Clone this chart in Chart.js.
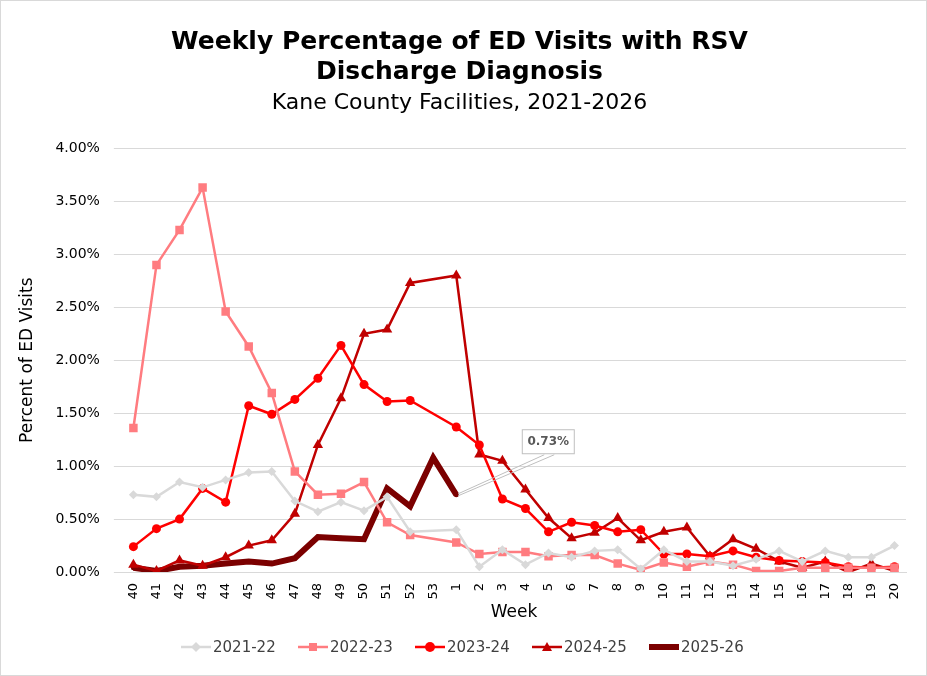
<!DOCTYPE html>
<html>
<head>
<meta charset="utf-8">
<script src="https://cdn.jsdelivr.net/npm/chart.js@4"></script>
<style>
  html, body { margin: 0; padding: 0; background: #fff; }
  #wrap { width: 925px; height: 674px; border: 1px solid #d9d9d9; position: relative; }
  canvas { display: block; }
</style>
</head>
<body>
<div id="wrap"><canvas id="rsv" width="925" height="674"></canvas></div>
<script>
// Week labels (season runs week 40 to week 20)
const weeks = ['40','41','42','43','44','45','46','47','48','49','50','51','52','53',
  '1','2','3','4','5','6','7','8','9','10','11','12','13','14','15','16','17','18','19','20'];

// Percent of ED visits with RSV discharge diagnosis
const s2122 = [0.73,0.71,0.85,0.80,0.87,0.94,0.95,0.67,0.57,0.66,0.58,0.71,0.38,null,
  0.40,0.05,0.21,0.07,0.18,0.14,0.20,0.21,0.03,0.21,0.10,0.10,0.06,0.12,0.20,0.10,0.20,0.14,0.14,0.25];
const s2223 = [1.36,2.90,3.23,3.63,2.46,2.13,1.69,0.95,0.73,0.74,0.85,0.47,0.35,null,
  0.28,0.17,0.19,0.19,0.15,0.16,0.16,0.08,0.02,0.09,0.05,0.10,0.07,0.01,0.01,0.04,0.04,0.04,0.04,0.04];
const s2324 = [0.24,0.41,0.50,0.79,0.66,1.57,1.49,1.63,1.83,2.14,1.77,1.61,1.62,null,
  1.37,1.20,0.69,0.60,0.38,0.47,0.44,0.38,0.40,0.17,0.17,0.15,0.20,0.14,0.11,0.10,0.09,0.05,0.04,0.05];
const s2425 = [0.07,0.01,0.11,0.06,0.14,0.25,0.30,0.55,1.20,1.64,2.25,2.29,2.73,null,
  2.80,1.11,1.05,0.78,0.51,0.32,0.37,0.51,0.30,0.38,0.42,0.15,0.31,0.22,0.10,0.04,0.10,0.00,0.08,0.01];
const s2526 = [0.04,0.01,0.05,0.06,0.08,0.10,0.08,0.13,0.33,0.32,0.31,0.79,0.62,1.08,
  0.73,null,null,null,null,null,null,null,null,null,null,null,null,null,null,null,null,null,null,null];

const seasonNames = ['2021-22','2022-23','2023-24','2024-25','2025-26'];
const seasonColors = ['#d9d9d9','#ff7c80','#ff0000','#c00000','#7b0000'];
const seasonMarkers = ['rectRot','rect','circle','triangle','circle'];
const markerSizes = [4.5, 6, 4.5, 6, 2.5];

const FONT = '"DejaVu Sans", Verdana, sans-serif';

function makeSet(i, data) {
  const last = i === 4;
  return {
    label: seasonNames[i],
    data: data,
    borderColor: seasonColors[i],
    backgroundColor: seasonColors[i],
    borderWidth: last ? 6 : 2.5,
    pointStyle: seasonMarkers[i],
    pointRadius: markerSizes[i],
    pointBorderWidth: 0,
    spanGaps: true,
    tension: 0
  };
}

// legend + data callout drawn by hand to match the Excel look
const extras = {
  id: 'extras',
  afterDraw(chart) {
    const ctx = chart.ctx;
    // callout for last 2025-26 point
    const meta = chart.getDatasetMeta(4);
    const pt = meta.data[14];
    ctx.save();
    ctx.strokeStyle = '#bfbfbf';
    ctx.lineWidth = 1;
    ctx.beginPath();
    ctx.moveTo(pt.x + 2, pt.y - 1);
    ctx.lineTo(pt.x + 88, pt.y - 40);
    ctx.moveTo(pt.x + 2, pt.y + 1);
    ctx.lineTo(pt.x + 98, pt.y - 40);
    ctx.stroke();
    ctx.fillStyle = '#fff';
    ctx.fillRect(pt.x + 66, pt.y - 65, 52, 24);
    ctx.strokeRect(pt.x + 66, pt.y - 65, 52, 24);
    ctx.fillStyle = '#595959';
    ctx.font = 'bold 12px ' + FONT;
    ctx.textAlign = 'center';
    ctx.textBaseline = 'middle';
    ctx.fillText('0.73%', pt.x + 92, pt.y - 53);

    // legend
    const xs = [180, 297, 414, 531, 648];
    const y = 646;
    ctx.font = '15px ' + FONT;
    ctx.textAlign = 'left';
    for (let i = 0; i < 5; i++) {
      const x = xs[i];
      ctx.strokeStyle = seasonColors[i];
      ctx.fillStyle = seasonColors[i];
      ctx.lineWidth = i === 4 ? 6 : 2.5;
      ctx.beginPath();
      ctx.moveTo(x, y);
      ctx.lineTo(x + 30, y);
      ctx.stroke();
      const r = i === 4 ? 3 : 5;
      ctx.beginPath();
      if (i === 0) { ctx.moveTo(x + 15, y - r); ctx.lineTo(x + 15 + r, y); ctx.lineTo(x + 15, y + r); ctx.lineTo(x + 15 - r, y); }
      else if (i === 1) { ctx.rect(x + 15 - 4, y - 4, 8, 8); }
      else if (i === 3) { ctx.moveTo(x + 15, y - r); ctx.lineTo(x + 15 + r, y + r * 0.8); ctx.lineTo(x + 15 - r, y + r * 0.8); }
      else { ctx.arc(x + 15, y, r, 0, Math.PI * 2); }
      ctx.fill();
      ctx.fillStyle = '#404040';
      ctx.fillText(seasonNames[i], x + 32, y + 1);
    }
    ctx.restore();
  }
};

new Chart(document.getElementById('rsv'), {
  type: 'line',
  data: {
    labels: weeks,
    datasets: [makeSet(0, s2122), makeSet(1, s2223), makeSet(2, s2324), makeSet(3, s2425), makeSet(4, s2526)]
  },
  plugins: [extras],
  options: {
    responsive: false,
    animation: false,
    layout: { padding: { left: 12, right: 20, top: 10, bottom: 48 } },
    plugins: {
      legend: { display: false },
      tooltip: { enabled: false },
      title: {
        display: true,
        text: ['Weekly Percentage of ED Visits with RSV', 'Discharge Diagnosis'],
        color: '#000',
        font: { family: FONT, size: 25, weight: 'bold', lineHeight: 1.22 },
        padding: { top: 16, bottom: 0 }
      },
      subtitle: {
        display: true,
        text: 'Kane County Facilities, 2021-2026',
        color: '#000',
        font: { family: FONT, size: 22 },
        padding: { top: 2, bottom: 32 }
      }
    },
    scales: {
      x: {
        offset: true,
        grid: { display: false },
        border: { color: '#d9d9d9' },
        ticks: { color: '#000', font: { family: FONT, size: 13 }, maxRotation: 90, minRotation: 90, autoSkip: false },
        title: { display: true, text: 'Week', color: '#000', font: { family: FONT, size: 17 }, padding: { top: 0 } }
      },
      y: {
        min: 0, max: 4,
        grid: { color: '#d9d9d9' },
        border: { display: false },
        ticks: { stepSize: 0.5, color: '#000', padding: 14, font: { family: FONT, size: 14 },
          callback: v => v.toFixed(2) + '%' },
        title: { display: true, text: 'Percent of ED Visits', color: '#000', font: { family: FONT, size: 17 } }
      }
    }
  }
});
</script>
</body>
</html>
